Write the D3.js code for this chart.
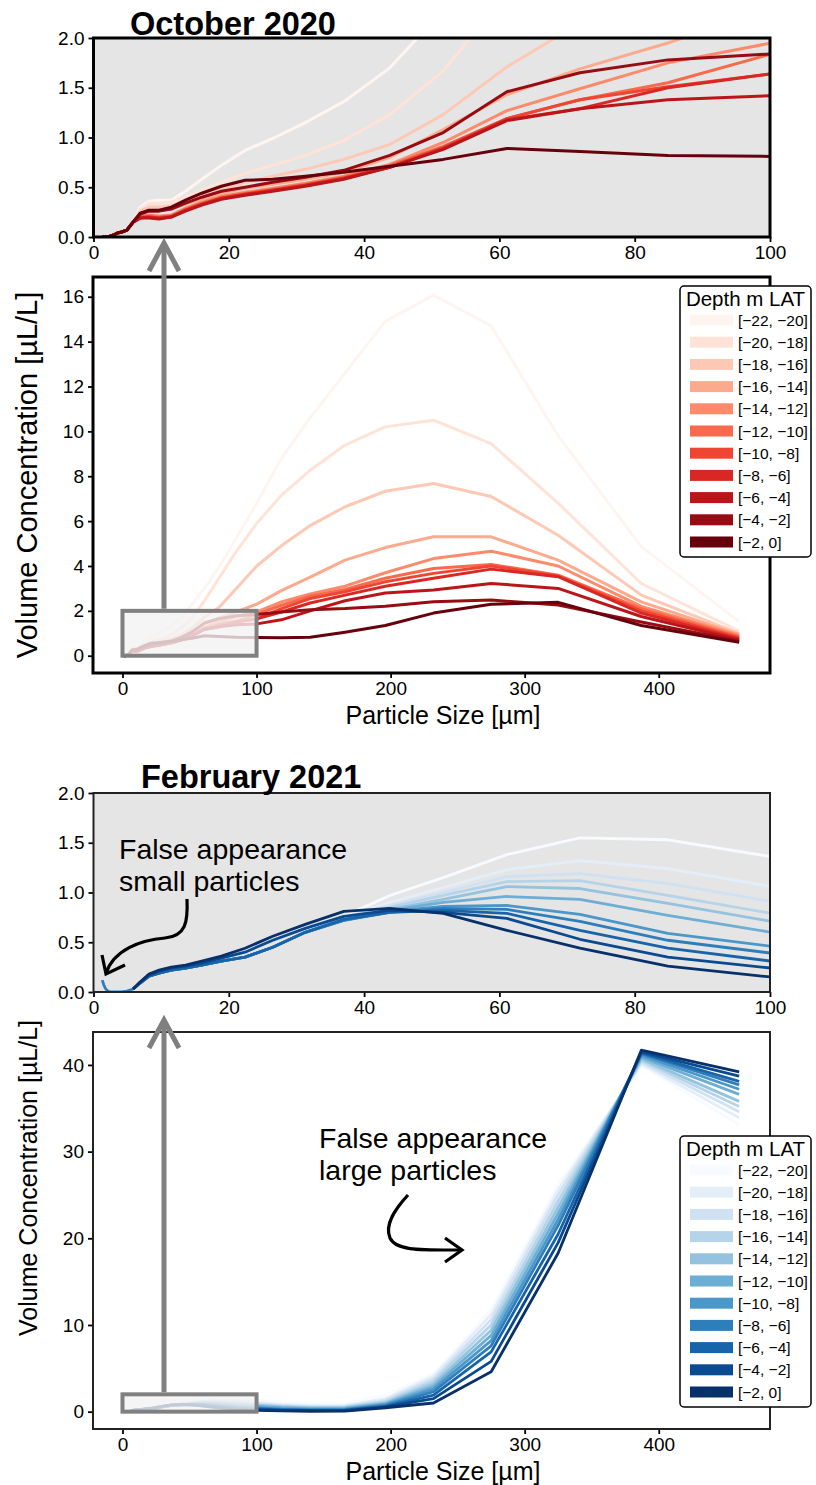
<!DOCTYPE html>
<html>
<head>
<meta charset="utf-8">
<script src="https://cdn.jsdelivr.net/npm/d3@7"></script>
<style>
  body { margin: 0; background: #fff; }
  text { font-family: "Liberation Sans", Arial, sans-serif; }
</style>
</head>
<body>
<svg id="chart" width="816" height="1485"></svg>
<script>
// particle size bins [µm]
var sizes = [1.29, 1.53, 1.81, 2.14, 2.53, 2.99, 3.54, 4.18, 4.95, 5.85, 6.9, 8.2, 9.7, 11.5, 13.6, 16.0, 18.9, 22.4,
             26.5, 31.3, 37.0, 43.8, 51.7, 61.1, 71.9, 84.9, 100.2, 118.5, 140, 166, 196, 232, 275, 325, 387, 460];

var depthBins = ["[\u221222, \u221220]", "[\u221220, \u221218]", "[\u221218, \u221216]", "[\u221216, \u221214]",
                 "[\u221214, \u221212]", "[\u221212, \u221210]", "[\u221210, \u22128]", "[\u22128, \u22126]",
                 "[\u22126, \u22124]", "[\u22124, \u22122]", "[\u22122, 0]"];

// October 2020, one row per depth bin (deepest first)
var october = [
  [0,0,0,0,0.01,0.02,0.04,0.05,0.07,0.15, 0.30,0.36,0.37,0.37,0.46,0.58,0.72,0.87,0.99,1.15, 1.36,1.70,2.28,3.00,3.95,5.25,6.80,8.80,10.6,12.6, 14.9,16.07,14.7,9.8,4.86,1.52],
  [0,0,0,0,0.01,0.02,0.04,0.05,0.07,0.15, 0.28,0.34,0.34,0.35,0.40,0.47,0.55,0.64,0.72,0.82, 0.97,1.23,1.67,2.45,3.45,4.65,5.90,7.15,8.27,9.39, 10.2,10.5,9.45,6.8,3.22,1.10],
  [0,0,0,0,0.01,0.02,0.04,0.05,0.07,0.15, 0.26,0.30,0.30,0.31,0.36,0.42,0.48,0.55,0.61,0.68, 0.78,0.93,1.23,1.71,2.15,3.00,4.00,4.90,5.80,6.64, 7.33,7.68,7.10,5.37,2.70,1.00],
  [0,0,0,0,0.01,0.02,0.04,0.05,0.07,0.15, 0.24,0.27,0.27,0.28,0.33,0.38,0.44,0.49,0.53,0.58, 0.65,0.80,1.08,1.43,1.69,1.95,2.30,2.90,3.50,4.26, 4.82,5.30,5.30,4.26,2.40,0.95],
  [0,0,0,0,0.01,0.02,0.04,0.05,0.07,0.15, 0.21,0.22,0.21,0.22,0.29,0.35,0.41,0.45,0.49,0.54, 0.61,0.73,0.95,1.27,1.49,1.75,1.95,2.40,2.75,3.10, 3.70,4.33,4.66,4.00,2.20,0.90],
  [0,0,0,0,0.01,0.02,0.04,0.05,0.07,0.15, 0.20,0.21,0.20,0.21,0.28,0.34,0.40,0.44,0.48,0.53, 0.60,0.72,0.91,1.19,1.38,1.55,1.84,2.25,2.65,2.95, 3.45,3.89,4.07,3.59,2.10,0.85],
  [0,0,0,0,0.01,0.02,0.04,0.05,0.07,0.15, 0.20,0.20,0.19,0.21,0.27,0.33,0.39,0.43,0.47,0.52, 0.59,0.71,0.90,1.19,1.38,1.51,1.64,2.10,2.55,2.85, 3.30,3.67,4.00,3.55,2.00,0.80],
  [0,0,0,0,0.01,0.02,0.04,0.05,0.07,0.15, 0.19,0.20,0.19,0.20,0.27,0.33,0.39,0.43,0.47,0.52, 0.59,0.70,0.89,1.18,1.29,1.50,1.64,1.95,2.35,2.70, 3.10,3.45,3.86,3.52,1.90,0.75],
  [0,0,0,0,0.01,0.02,0.04,0.05,0.07,0.15, 0.19,0.19,0.18,0.20,0.26,0.32,0.38,0.42,0.46,0.51, 0.58,0.70,0.88,1.17,1.29,1.38,1.42,1.60,2.00,2.45, 2.80,2.93,3.22,3.00,1.75,0.70],
  [0,0,0,0,0.01,0.02,0.04,0.05,0.07,0.15, 0.23,0.26,0.26,0.28,0.34,0.40,0.46,0.50,0.55,0.60, 0.67,0.82,1.05,1.46,1.65,1.78,1.84,1.95,2.05,2.10, 2.20,2.41,2.48,2.26,1.50,0.65],
  [0,0,0,0,0.01,0.02,0.04,0.05,0.07,0.15, 0.24,0.27,0.27,0.30,0.37,0.44,0.51,0.57,0.58,0.61, 0.65,0.71,0.78,0.89,0.86,0.82,0.81,0.80,0.82,1.05, 1.35,1.90,2.29,2.38,1.35,0.60]
];

// February 2021 (null = no value in that bin)
var february = [
  [null,null,null,null,null,null,null,null,null, 0.03,0.09,0.16,0.19,0.22,0.24,0.27,0.31,0.35,0.45,0.60, 0.76,0.97,1.15,1.38,1.55,1.53,1.36,1.15,0.95,0.95, 1.90,4.40,11.8,26.3,39.9,33.1],
  [null,null,null,null,null,null,null,null,null, 0.03,0.09,0.16,0.19,0.22,0.24,0.27,0.31,0.35,0.45,0.60, 0.75,0.90,1.05,1.23,1.32,1.24,1.06,0.85,0.70,0.72, 1.50,4.10,11.2,25.6,40.1,33.9],
  [null,null,null,null,null,null,null,null,null, 0.03,0.09,0.16,0.19,0.22,0.24,0.27,0.31,0.35,0.45,0.60, 0.75,0.87,1.00,1.16,1.19,1.09,0.91,0.72,0.58,0.60, 1.30,3.80,10.6,25.0,40.3,34.6],
  [null,null,null,null,null,null,null,null,null, 0.03,0.09,0.16,0.19,0.22,0.24,0.27,0.31,0.35,0.45,0.60, 0.74,0.85,0.97,1.11,1.12,0.97,0.79,0.62,0.50,0.52, 1.15,3.50,10.0,24.3,40.5,35.2],
  [null,null,null,null,null,null,null,null,null, 0.03,0.09,0.16,0.19,0.22,0.24,0.27,0.31,0.35,0.45,0.60, 0.73,0.83,0.93,1.06,1.04,0.89,0.71,0.55,0.44,0.45, 1.00,3.20,9.40,23.6,40.7,35.8],
  [null,null,null,null,null,null,null,null,null, 0.03,0.09,0.16,0.19,0.22,0.24,0.27,0.31,0.35,0.45,0.60, 0.73,0.82,0.90,0.96,0.93,0.77,0.60,0.45,0.36,0.38, 0.90,2.90,8.80,22.9,40.9,36.6],
  [null,null,null,null,null,null,null,null,null, 0.03,0.09,0.16,0.19,0.22,0.24,0.27,0.31,0.35,0.45,0.60, 0.72,0.81,0.86,0.87,0.78,0.59,0.46,0.33,0.26,0.28, 0.80,2.60,8.20,22.2,41.1,37.2],
  [0.12,0.07,0.03,0.01,0,0,0,0,0.01, 0.03,0.09,0.16,0.19,0.22,0.24,0.27,0.31,0.35,0.45,0.60, 0.72,0.80,0.84,0.83,0.71,0.52,0.39,0.27,0.21,0.22, 0.70,2.30,7.60,21.5,41.3,37.7],
  [null,null,null,null,null,null,null,null,null, 0.03,0.09,0.16,0.19,0.22,0.24,0.27,0.31,0.35,0.45,0.60, 0.73,0.80,0.82,0.79,0.62,0.44,0.31,0.21,0.16,0.17, 0.60,1.90,6.90,20.5,41.4,38.1],
  [null,null,null,null,null,null,null,null,null, 0.03,0.10,0.17,0.21,0.24,0.26,0.29,0.34,0.40,0.52,0.64, 0.76,0.82,0.80,0.74,0.53,0.35,0.24,0.15,0.11,0.12, 0.55,1.50,5.80,19.5,41.5,38.7],
  [null,null,null,null,null,null,null,null,null, 0.03,0.10,0.18,0.22,0.25,0.27,0.31,0.36,0.44,0.56,0.68, 0.81,0.84,0.79,0.62,0.44,0.26,0.15,0.08,0.05,0.06, 0.45,1.00,4.60,18.3,41.7,39.2]
];

var insetXTicks = [0, 20, 40, 60, 80, 100];
var insetYTicks = [0, 0.5, 1.0, 1.5, 2.0];
var mainXTicks = [0, 100, 200, 300, 400];
var octYTicks = [0, 2, 4, 6, 8, 10, 12, 14, 16];
var febYTicks = [0, 10, 20, 30, 40];

var svg = d3.select("#chart");
var font = '"Liberation Sans", Arial, sans-serif';

function drawPanel(cfg) {
  var x = d3.scaleLinear().domain(cfg.xdom).range([cfg.left, cfg.right]);
  var y = d3.scaleLinear().domain(cfg.ydom).range([cfg.bottom, cfg.top]);
  var g = svg.append("g");

  g.append("clipPath").attr("id", cfg.id)
    .append("rect")
      .attr("x", cfg.left).attr("y", cfg.top)
      .attr("width", cfg.right - cfg.left).attr("height", cfg.bottom - cfg.top);

  g.append("rect")
    .attr("x", cfg.left).attr("y", cfg.top)
    .attr("width", cfg.right - cfg.left).attr("height", cfg.bottom - cfg.top)
    .attr("fill", cfg.bg);

  var line = d3.line()
    .defined(function(d) { return d[1] != null; })
    .x(function(d) { return x(d[0]); })
    .y(function(d) { return y(d[1]); });

  g.append("g").attr("clip-path", "url(#" + cfg.id + ")")
    .selectAll("path")
    .data(cfg.series)
    .enter().append("path")
      .attr("d", function(s) { return line(sizes.map(function(v, i) { return [v, s[i]]; })); })
      .attr("fill", "none")
      .attr("stroke", function(s, i) { return cfg.color(i / 10); })
      .attr("stroke-width", cfg.lw)
      .attr("stroke-linejoin", "round");

  var xAxis = g.append("g")
    .attr("transform", "translate(0," + cfg.bottom + ")")
    .call(d3.axisBottom(x).tickValues(cfg.xticks).tickSize(5).tickPadding(4).tickFormat(d3.format("d")));
  var yAxis = g.append("g")
    .attr("transform", "translate(" + cfg.left + ",0)")
    .call(d3.axisLeft(y).tickValues(cfg.yticks).tickSize(5).tickPadding(4).tickFormat(d3.format(cfg.yfmt)));

  [xAxis, yAxis].forEach(function(a) {
    a.select(".domain").remove();
    a.selectAll(".tick line").attr("stroke", "#000").attr("stroke-width", 1.8);
    a.selectAll(".tick text").attr("font-size", "19px").attr("font-family", font).attr("fill", "#000");
  });

  g.append("rect")
    .attr("x", cfg.left).attr("y", cfg.top)
    .attr("width", cfg.right - cfg.left).attr("height", cfg.bottom - cfg.top)
    .attr("fill", "none")
    .attr("stroke", cfg.frame)
    .attr("stroke-width", cfg.fw);

  return { x: x, y: y, g: g };
}

function drawLegend(left, top, color) {
  var lg = svg.append("g");
  lg.append("rect")
    .attr("x", left).attr("y", top).attr("width", 131).attr("height", 271)
    .attr("rx", 4).attr("fill", "#fff").attr("stroke", "#000").attr("stroke-width", 1.5);
  lg.append("text")
    .attr("x", left + 65.5).attr("y", top + 19.5)
    .attr("text-anchor", "middle").attr("font-size", "20.5px").text("Depth m LAT");
  var rows = lg.selectAll("g.row").data(depthBins).enter().append("g")
    .attr("transform", function(d, i) { return "translate(" + left + "," + (top + 34 + i * 22.2) + ")"; });
  rows.append("rect")
    .attr("x", 10).attr("y", -5.5).attr("width", 43).attr("height", 11)
    .attr("fill", function(d, i) { return color(i / 10); });
  rows.append("text")
    .attr("x", 58).attr("y", 5.5)
    .attr("font-size", "15.5px").text(function(d) { return d; });
}

function zoomBox(p) {
  p.g.append("rect")
    .attr("x", p.x(0)).attr("y", p.y(2))
    .attr("width", p.x(100) - p.x(0)).attr("height", p.y(0) - p.y(2))
    .attr("fill", "#f2f2f2").attr("fill-opacity", 0.8)
    .attr("stroke", "#808080").attr("stroke-width", 4);
}

function greyArrow(xp, y0, y1) {
  svg.append("line")
    .attr("x1", xp).attr("x2", xp).attr("y1", y0).attr("y2", y1 + 2)
    .attr("stroke", "#808080").attr("stroke-width", 5);
  svg.append("path")
    .attr("d", "M" + (xp - 15) + "," + (y1 + 28) + "L" + xp + "," + y1 + "L" + (xp + 15) + "," + (y1 + 28))
    .attr("fill", "none").attr("stroke", "#808080").attr("stroke-width", 5);
}

// ---------- October 2020 ----------
var octInset = drawPanel({
  id: "clipOctInset", left: 93.5, right: 770, top: 38, bottom: 237,
  xdom: [0, 100], ydom: [0, 2], xticks: insetXTicks, yticks: insetYTicks, yfmt: ".1f",
  series: october, color: d3.interpolateReds, bg: "#e5e5e5", frame: "#000", fw: 3, lw: 3
});
var octMain = drawPanel({
  id: "clipOctMain", left: 93, right: 770, top: 277, bottom: 673,
  xdom: [-22, 483], ydom: [-0.77, 16.88], xticks: mainXTicks, yticks: octYTicks, yfmt: "d",
  series: october, color: d3.interpolateReds, bg: "#fff", frame: "#000", fw: 3, lw: 3
});
zoomBox(octMain);
drawLegend(680, 286, d3.interpolateReds);

svg.append("text").attr("x", 130).attr("y", 35)
  .attr("font-size", "32.5px").attr("font-weight", "bold").text("October 2020");

// ---------- February 2021 ----------
var febInset = drawPanel({
  id: "clipFebInset", left: 93.5, right: 770, top: 793, bottom: 992,
  xdom: [0, 100], ydom: [0, 2], xticks: insetXTicks, yticks: insetYTicks, yfmt: ".1f",
  series: february, color: d3.interpolateBlues, bg: "#e5e5e5", frame: "#222", fw: 2, lw: 2.8
});
var febMain = drawPanel({
  id: "clipFebMain", left: 93, right: 770, top: 1032, bottom: 1429,
  xdom: [-22, 483], ydom: [-2.0, 43.8], xticks: mainXTicks, yticks: febYTicks, yfmt: "d",
  series: february, color: d3.interpolateBlues, bg: "#fff", frame: "#222", fw: 2, lw: 2.8
});
zoomBox(febMain);
drawLegend(680, 1136, d3.interpolateBlues);

svg.append("text").attr("x", 141).attr("y", 788)
  .attr("font-size", "32.5px").attr("font-weight", "bold").text("February 2021");

// axis titles
[[475, 724, 29], [1178, 1480, 25]].forEach(function(p) {
  svg.append("text")
    .attr("transform", "translate(37," + p[0] + ") rotate(-90)")
    .attr("text-anchor", "middle").attr("font-size", p[2] + "px")
    .text("Volume Concentration [\u00b5L/L]");
  svg.append("text")
    .attr("x", 443).attr("y", p[1])
    .attr("text-anchor", "middle").attr("font-size", "25px")
    .text("Particle Size [\u00b5m]");
});

// zoom arrows
greyArrow(164, octMain.y(2) - 2, 243);
greyArrow(164, febMain.y(2) - 2, 1020);

// annotations
function note(xp, yp, lines) {
  var t = svg.append("text").attr("font-size", "28.5px");
  lines.forEach(function(s, i) {
    t.append("tspan").attr("x", xp).attr("y", yp + i * 32).text(s);
  });
}
note(119, 859, ["False appearance", "small particles"]);
note(319, 1148, ["False appearance", "large particles"]);

svg.append("path")
  .attr("d", "M187,899 C188,922 186,936 165,938 C140,940 114,950 106,973")
  .attr("fill", "none").attr("stroke", "#000").attr("stroke-width", 3.2);
svg.append("path")
  .attr("d", "M102,955 L106,974 L125,965")
  .attr("fill", "none").attr("stroke", "#000").attr("stroke-width", 3.2);

svg.append("path")
  .attr("d", "M408,1195 C396,1208 384,1224 390,1238 C396,1251 420,1250 461,1250")
  .attr("fill", "none").attr("stroke", "#000").attr("stroke-width", 3.2);
svg.append("path")
  .attr("d", "M445,1238 L462,1250 L445,1262")
  .attr("fill", "none").attr("stroke", "#000").attr("stroke-width", 3.2);
</script>
</body>
</html>
